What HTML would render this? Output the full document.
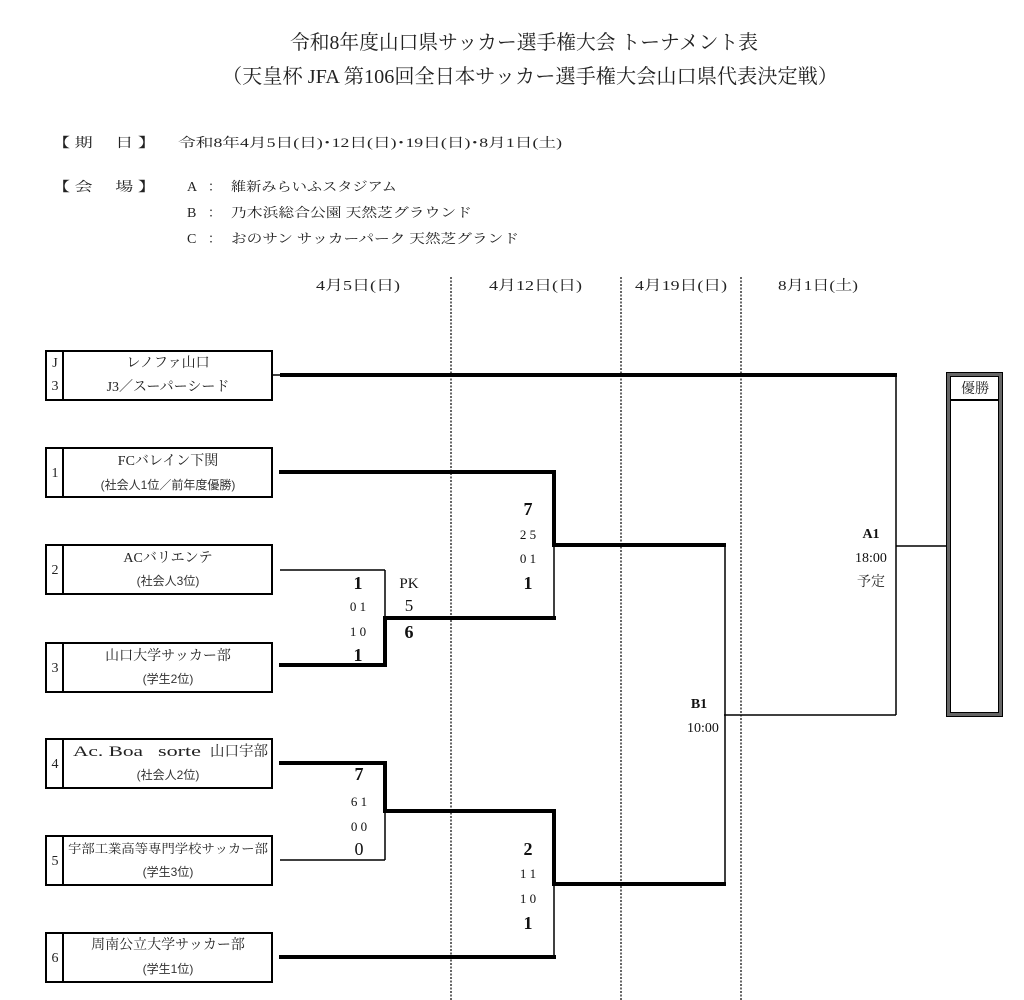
<!DOCTYPE html>
<html lang="ja">
<head>
<meta charset="utf-8">
<style>
  html,body{margin:0;padding:0;background:#fff;}
  body{width:1024px;height:1000px;overflow:hidden;}
  svg{display:block;}
  .mi{font-family:"Liberation Serif","Noto Serif CJK SC",serif;fill:#222;}
  .go{font-family:"Liberation Sans","Noto Sans CJK JP",sans-serif;fill:#333;}
  .sc{font-family:"Liberation Serif","Noto Serif CJK SC",serif;fill:#111;}
</style>
</head>
<body>
<svg width="1024" height="1000" viewBox="0 0 1024 1000" xmlns="http://www.w3.org/2000/svg">
  <!-- Title -->
  <text class="mi" x="290" y="49" font-size="20" textLength="468" lengthAdjust="spacingAndGlyphs">令和8年度山口県サッカー選手権大会 トーナメント表</text>
  <text class="mi" x="222" y="83" font-size="20" textLength="616" lengthAdjust="spacingAndGlyphs">（天皇杯 JFA 第106回全日本サッカー選手権大会山口県代表決定戦）</text>

  <!-- Dates / venues -->
  <text class="mi" x="52" y="147" font-size="13" textLength="104" lengthAdjust="spacingAndGlyphs">【 期　 日 】</text>
  <text class="mi" x="178" y="147" font-size="13" textLength="384" lengthAdjust="spacingAndGlyphs">令和8年4月5日(日)･12日(日)･19日(日)･8月1日(土)</text>
  <text class="mi" x="52" y="191" font-size="13" textLength="104" lengthAdjust="spacingAndGlyphs">【 会　 場 】</text>
  <text class="mi" x="187" y="191" font-size="14">A</text>
  <text class="mi" x="208" y="191" font-size="13">：</text>
  <text class="mi" x="231" y="191" font-size="13" textLength="166" lengthAdjust="spacingAndGlyphs">維新みらいふスタジアム</text>
  <text class="mi" x="187" y="217" font-size="14">B</text>
  <text class="mi" x="208" y="217" font-size="13">：</text>
  <text class="mi" x="231" y="217" font-size="13" textLength="241" lengthAdjust="spacingAndGlyphs">乃木浜総合公園 天然芝グラウンド</text>
  <text class="mi" x="187" y="243" font-size="14">C</text>
  <text class="mi" x="208" y="243" font-size="13">：</text>
  <text class="mi" x="231" y="243" font-size="13" textLength="288" lengthAdjust="spacingAndGlyphs">おのサン サッカーパーク 天然芝グランド</text>

  <!-- Round date headers -->
  <text class="mi" x="316" y="290" font-size="14" textLength="84" lengthAdjust="spacingAndGlyphs">4月5日(日)</text>
  <text class="mi" x="489" y="290" font-size="14" textLength="93" lengthAdjust="spacingAndGlyphs">4月12日(日)</text>
  <text class="mi" x="635" y="290" font-size="14" textLength="92" lengthAdjust="spacingAndGlyphs">4月19日(日)</text>
  <text class="mi" x="778" y="290" font-size="14" textLength="80" lengthAdjust="spacingAndGlyphs">8月1日(土)</text>

  <!-- Dotted separators -->
  <g stroke="#333" stroke-width="1.5" stroke-dasharray="2,1.5">
    <line x1="451" y1="277" x2="451" y2="1000"/>
    <line x1="621" y1="277" x2="621" y2="1000"/>
    <line x1="741" y1="277" x2="741" y2="1000"/>
  </g>

  <!-- Team boxes -->
  <g fill="none" stroke="#000" stroke-width="2">
    <rect x="46" y="351" width="226" height="49"/><line x1="63" y1="351" x2="63" y2="400"/>
    <rect x="46" y="448" width="226" height="49"/><line x1="63" y1="448" x2="63" y2="497"/>
    <rect x="46" y="545" width="226" height="49"/><line x1="63" y1="545" x2="63" y2="594"/>
    <rect x="46" y="643" width="226" height="49"/><line x1="63" y1="643" x2="63" y2="692"/>
    <rect x="46" y="739" width="226" height="49"/><line x1="63" y1="739" x2="63" y2="788"/>
    <rect x="46" y="836" width="226" height="49"/><line x1="63" y1="836" x2="63" y2="885"/>
    <rect x="46" y="933" width="226" height="49"/><line x1="63" y1="933" x2="63" y2="982"/>
  </g>

  <!-- Box numbers -->
  <g class="mi" font-size="14" text-anchor="middle">
    <text x="55" y="367">J</text>
    <text x="55" y="390">3</text>
    <text x="55" y="477">1</text>
    <text x="55" y="574">2</text>
    <text x="55" y="672">3</text>
    <text x="55" y="768">4</text>
    <text x="55" y="865">5</text>
    <text x="55" y="962">6</text>
  </g>

  <!-- Team names -->
  <g text-anchor="middle">
    <text class="mi" x="168" y="367" font-size="14">レノファ山口</text>
    <text class="mi" x="168" y="391" font-size="14">J3／スーパーシード</text>

    <text class="mi" x="168" y="465" font-size="14">FCバレイン下関</text>
    <text class="go" x="168" y="489" font-size="12">(社会人1位／前年度優勝)</text>

    <text class="mi" x="168" y="562" font-size="14">ACバリエンテ</text>
    <text class="go" x="168" y="585" font-size="12">(社会人3位)</text>

    <text class="mi" x="168" y="660" font-size="14">山口大学サッカー部</text>
    <text class="go" x="168" y="683" font-size="12">(学生2位)</text>

    <text class="go" x="168" y="779" font-size="12">(社会人2位)</text>

    <text class="mi" x="168" y="853" font-size="12.5" textLength="200" lengthAdjust="spacingAndGlyphs">宇部工業高等専門学校サッカー部</text>
    <text class="go" x="168" y="876" font-size="12">(学生3位)</text>

    <text class="mi" x="168" y="949" font-size="14">周南公立大学サッカー部</text>
    <text class="go" x="168" y="973" font-size="12">(学生1位)</text>
  </g>
  <text class="mi" x="73" y="756" font-size="15" textLength="70" lengthAdjust="spacingAndGlyphs">Ac. Boa</text>
  <text class="mi" x="158" y="756" font-size="15" textLength="43" lengthAdjust="spacingAndGlyphs">sorte</text>
  <text class="mi" x="210" y="756" font-size="14.5" textLength="58" lengthAdjust="spacingAndGlyphs">山口宇部</text>

  <!-- Bracket: thin lines -->
  <g stroke="#000" stroke-width="1.5" fill="none">
    <line x1="272" y1="375" x2="282" y2="375"/>
    <line x1="896" y1="375" x2="896" y2="715"/>
    <line x1="724" y1="715" x2="896" y2="715"/>
    <line x1="896" y1="546" x2="947" y2="546"/>
    <line x1="725" y1="545" x2="725" y2="884"/>
    <line x1="280" y1="570" x2="385" y2="570"/>
    <line x1="385" y1="570" x2="385" y2="618"/>
    <line x1="554" y1="545" x2="554" y2="618"/>
    <line x1="280" y1="860" x2="385" y2="860"/>
    <line x1="385" y1="811" x2="385" y2="860"/>
    <line x1="554" y1="884" x2="554" y2="957"/>
  </g>

  <!-- Bracket: thick (winner) lines -->
  <g stroke="#000" stroke-width="4" fill="none" stroke-linecap="square" stroke-linejoin="miter">
    <line x1="282" y1="375" x2="895" y2="375"/>
    <polyline points="281,472 554,472 554,545 724,545"/>
    <polyline points="281,665 385,665 385,618 554,618"/>
    <polyline points="281,763 385,763 385,811 554,811 554,884 724,884"/>
    <line x1="281" y1="957" x2="554" y2="957"/>
  </g>

  <!-- Scores -->
  <g class="sc" text-anchor="middle">
    <text x="358" y="589" font-size="18" font-weight="bold">1</text>
    <text x="358" y="611" font-size="13">0 1</text>
    <text x="358" y="636" font-size="13">1 0</text>
    <text x="358" y="661" font-size="18" font-weight="bold">1</text>
    <text x="409" y="588" font-size="15">PK</text>
    <text x="409" y="611" font-size="17">5</text>
    <text x="409" y="638" font-size="18" font-weight="bold">6</text>

    <text x="528" y="515" font-size="18" font-weight="bold">7</text>
    <text x="528" y="539" font-size="13">2 5</text>
    <text x="528" y="563" font-size="13">0 1</text>
    <text x="528" y="589" font-size="18" font-weight="bold">1</text>

    <text x="359" y="780" font-size="18" font-weight="bold">7</text>
    <text x="359" y="806" font-size="13">6 1</text>
    <text x="359" y="831" font-size="13">0 0</text>
    <text x="359" y="855" font-size="18">0</text>

    <text x="528" y="855" font-size="18" font-weight="bold">2</text>
    <text x="528" y="878" font-size="13">1 1</text>
    <text x="528" y="903" font-size="13">1 0</text>
    <text x="528" y="929" font-size="18" font-weight="bold">1</text>

    <text x="699" y="708" font-size="14" font-weight="bold">B1</text>
    <text x="703" y="732" font-size="14">10:00</text>

    <text x="871" y="538" font-size="14" font-weight="bold">A1</text>
    <text x="871" y="562" font-size="14">18:00</text>
  </g>
  <text class="mi" x="871" y="586" font-size="14" text-anchor="middle">予定</text>

  <!-- Winner box -->
  <rect x="948.5" y="374.5" width="52" height="340" fill="none" stroke="#666" stroke-width="4"/>
  <rect x="946.5" y="372.5" width="56" height="344" fill="none" stroke="#000" stroke-width="1"/>
  <rect x="950.5" y="376.5" width="48" height="336" fill="none" stroke="#000" stroke-width="1"/>
  <line x1="950" y1="400" x2="999" y2="400" stroke="#000" stroke-width="2"/>
  <text class="mi" x="975" y="393" font-size="14" text-anchor="middle">優勝</text>
</svg>
</body>
</html>
